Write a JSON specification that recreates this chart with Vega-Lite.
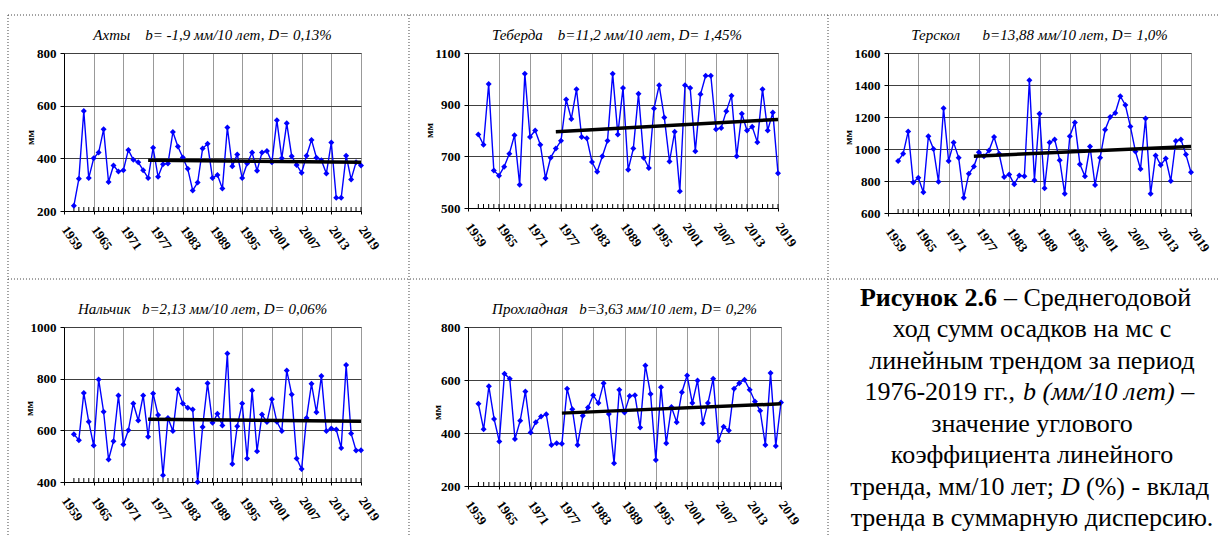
{
"$schema":"https://vega.github.io/schema/vega-lite/v6.json",
"padding":{"left":7,"top":14,"right":0,"bottom":0},
"autosize":{"type":"pad"},
"background":"white",
"config":{
 "view":{"stroke":"#888888","strokeWidth":1},
 "font":"Liberation Serif",
 "title":{"font":"Liberation Serif","fontStyle":"italic","fontWeight":"normal","fontSize":15,"color":"black","offset":4,"anchor":"middle","baseline":"bottom"},
 "axis":{"labelFont":"Liberation Serif","labelFontWeight":"bold","labelFontSize":13,"labelColor":"black","titleFont":"Liberation Serif","titleFontWeight":"bold","titleFontSize":11,"titleColor":"black","domainColor":"black","tickColor":"black","gridOpacity":1,"labelOverlap":false,"tickCount":100},
 "axisY":{"tickSize":4,"labelPadding":4,"gridColor":"#404040","format":"d","labelOverlap":false,"titleAngle":-90,"titleAlign":"center","titleBaseline":"middle"},
 "axisX":{"gridColor":"#999999"}
},
"datasets":{
"series":[
{"s":"Ахты","year":1961,"mm":220},{"s":"Ахты","year":1962,"mm":322},{"s":"Ахты","year":1963,"mm":580},{"s":"Ахты","year":1964,"mm":325},{"s":"Ахты","year":1965,"mm":400},{"s":"Ахты","year":1966,"mm":422},{"s":"Ахты","year":1967,"mm":510},{"s":"Ахты","year":1968,"mm":310},{"s":"Ахты","year":1969,"mm":373},{"s":"Ахты","year":1970,"mm":350},{"s":"Ахты","year":1971,"mm":355},{"s":"Ахты","year":1972,"mm":432},{"s":"Ахты","year":1973,"mm":395},{"s":"Ахты","year":1974,"mm":385},{"s":"Ахты","year":1975,"mm":355},{"s":"Ахты","year":1976,"mm":325},{"s":"Ахты","year":1977,"mm":440},{"s":"Ахты","year":1978,"mm":330},{"s":"Ахты","year":1979,"mm":378},{"s":"Ахты","year":1980,"mm":380},{"s":"Ахты","year":1981,"mm":500},{"s":"Ахты","year":1982,"mm":445},{"s":"Ахты","year":1983,"mm":403},{"s":"Ахты","year":1984,"mm":360},{"s":"Ахты","year":1985,"mm":278},{"s":"Ахты","year":1986,"mm":308},{"s":"Ахты","year":1987,"mm":437},{"s":"Ахты","year":1988,"mm":455},{"s":"Ахты","year":1989,"mm":325},{"s":"Ахты","year":1990,"mm":337},{"s":"Ахты","year":1991,"mm":285},{"s":"Ахты","year":1992,"mm":517},{"s":"Ахты","year":1993,"mm":370},{"s":"Ахты","year":1994,"mm":415},{"s":"Ахты","year":1995,"mm":325},{"s":"Ахты","year":1996,"mm":380},{"s":"Ахты","year":1997,"mm":422},{"s":"Ахты","year":1998,"mm":353},{"s":"Ахты","year":1999,"mm":422},{"s":"Ахты","year":2000,"mm":428},{"s":"Ахты","year":2001,"mm":385},{"s":"Ахты","year":2002,"mm":545},{"s":"Ахты","year":2003,"mm":400},{"s":"Ахты","year":2004,"mm":533},{"s":"Ахты","year":2005,"mm":408},{"s":"Ахты","year":2006,"mm":375},{"s":"Ахты","year":2007,"mm":345},{"s":"Ахты","year":2008,"mm":410},{"s":"Ахты","year":2009,"mm":470},{"s":"Ахты","year":2010,"mm":402},{"s":"Ахты","year":2011,"mm":393},{"s":"Ахты","year":2012,"mm":342},{"s":"Ахты","year":2013,"mm":460},{"s":"Ахты","year":2014,"mm":250},{"s":"Ахты","year":2015,"mm":250},{"s":"Ахты","year":2016,"mm":410},{"s":"Ахты","year":2017,"mm":320},{"s":"Ахты","year":2018,"mm":385},{"s":"Ахты","year":2019,"mm":373},
{"s":"Теберда","year":1961,"mm":785},{"s":"Теберда","year":1962,"mm":745},{"s":"Теберда","year":1963,"mm":980},{"s":"Теберда","year":1964,"mm":645},{"s":"Теберда","year":1965,"mm":625},{"s":"Теберда","year":1966,"mm":660},{"s":"Теберда","year":1967,"mm":710},{"s":"Теберда","year":1968,"mm":782},{"s":"Теберда","year":1969,"mm":590},{"s":"Теберда","year":1970,"mm":1020},{"s":"Теберда","year":1971,"mm":775},{"s":"Теберда","year":1972,"mm":800},{"s":"Теберда","year":1973,"mm":745},{"s":"Теберда","year":1974,"mm":615},{"s":"Теберда","year":1975,"mm":695},{"s":"Теберда","year":1976,"mm":730},{"s":"Теберда","year":1977,"mm":760},{"s":"Теберда","year":1978,"mm":920},{"s":"Теберда","year":1979,"mm":845},{"s":"Теберда","year":1980,"mm":960},{"s":"Теберда","year":1981,"mm":775},{"s":"Теберда","year":1982,"mm":770},{"s":"Теберда","year":1983,"mm":678},{"s":"Теберда","year":1984,"mm":640},{"s":"Теберда","year":1985,"mm":700},{"s":"Теберда","year":1986,"mm":760},{"s":"Теберда","year":1987,"mm":1020},{"s":"Теберда","year":1988,"mm":785},{"s":"Теберда","year":1989,"mm":965},{"s":"Теберда","year":1990,"mm":648},{"s":"Теберда","year":1991,"mm":730},{"s":"Теберда","year":1992,"mm":942},{"s":"Теберда","year":1993,"mm":695},{"s":"Теберда","year":1994,"mm":655},{"s":"Теберда","year":1995,"mm":885},{"s":"Теберда","year":1996,"mm":975},{"s":"Теберда","year":1997,"mm":850},{"s":"Теберда","year":1998,"mm":680},{"s":"Теберда","year":1999,"mm":795},{"s":"Теберда","year":2000,"mm":565},{"s":"Теберда","year":2001,"mm":975},{"s":"Теберда","year":2002,"mm":965},{"s":"Теберда","year":2003,"mm":720},{"s":"Теберда","year":2004,"mm":940},{"s":"Теберда","year":2005,"mm":1012},{"s":"Теберда","year":2006,"mm":1012},{"s":"Теберда","year":2007,"mm":805},{"s":"Теберда","year":2008,"mm":810},{"s":"Теберда","year":2009,"mm":875},{"s":"Теберда","year":2010,"mm":935},{"s":"Теберда","year":2011,"mm":700},{"s":"Теберда","year":2012,"mm":865},{"s":"Теберда","year":2013,"mm":800},{"s":"Теберда","year":2014,"mm":815},{"s":"Теберда","year":2015,"mm":755},{"s":"Теберда","year":2016,"mm":960},{"s":"Теберда","year":2017,"mm":800},{"s":"Теберда","year":2018,"mm":870},{"s":"Теберда","year":2019,"mm":635},
{"s":"Терскол","year":1961,"mm":925},{"s":"Терскол","year":1962,"mm":970},{"s":"Терскол","year":1963,"mm":1110},{"s":"Терскол","year":1964,"mm":790},{"s":"Терскол","year":1965,"mm":820},{"s":"Терскол","year":1966,"mm":730},{"s":"Терскол","year":1967,"mm":1080},{"s":"Терскол","year":1968,"mm":1000},{"s":"Терскол","year":1969,"mm":795},{"s":"Терскол","year":1970,"mm":1255},{"s":"Терскол","year":1971,"mm":925},{"s":"Терскол","year":1972,"mm":1040},{"s":"Терскол","year":1973,"mm":945},{"s":"Терскол","year":1974,"mm":695},{"s":"Терскол","year":1975,"mm":845},{"s":"Терскол","year":1976,"mm":890},{"s":"Терскол","year":1977,"mm":980},{"s":"Терскол","year":1978,"mm":955},{"s":"Терскол","year":1979,"mm":990},{"s":"Терскол","year":1980,"mm":1075},{"s":"Терскол","year":1981,"mm":970},{"s":"Терскол","year":1982,"mm":825},{"s":"Терскол","year":1983,"mm":840},{"s":"Терскол","year":1984,"mm":780},{"s":"Терскол","year":1985,"mm":835},{"s":"Терскол","year":1986,"mm":830},{"s":"Терскол","year":1987,"mm":1430},{"s":"Терскол","year":1988,"mm":805},{"s":"Терскол","year":1989,"mm":1220},{"s":"Терскол","year":1990,"mm":755},{"s":"Терскол","year":1991,"mm":1040},{"s":"Терскол","year":1992,"mm":1060},{"s":"Терскол","year":1993,"mm":930},{"s":"Терскол","year":1994,"mm":720},{"s":"Терскол","year":1995,"mm":1080},{"s":"Терскол","year":1996,"mm":1165},{"s":"Терскол","year":1997,"mm":905},{"s":"Терскол","year":1998,"mm":830},{"s":"Терскол","year":1999,"mm":1015},{"s":"Терскол","year":2000,"mm":775},{"s":"Терскол","year":2001,"mm":945},{"s":"Терскол","year":2002,"mm":1120},{"s":"Терскол","year":2003,"mm":1200},{"s":"Терскол","year":2004,"mm":1225},{"s":"Терскол","year":2005,"mm":1330},{"s":"Терскол","year":2006,"mm":1275},{"s":"Терскол","year":2007,"mm":1140},{"s":"Терскол","year":2008,"mm":985},{"s":"Терскол","year":2009,"mm":875},{"s":"Терскол","year":2010,"mm":1190},{"s":"Терскол","year":2011,"mm":720},{"s":"Терскол","year":2012,"mm":960},{"s":"Терскол","year":2013,"mm":900},{"s":"Терскол","year":2014,"mm":940},{"s":"Терскол","year":2015,"mm":800},{"s":"Терскол","year":2016,"mm":1050},{"s":"Терскол","year":2017,"mm":1060},{"s":"Терскол","year":2018,"mm":965},{"s":"Терскол","year":2019,"mm":855},
{"s":"Нальчик","year":1961,"mm":585},{"s":"Нальчик","year":1962,"mm":562},{"s":"Нальчик","year":1963,"mm":745},{"s":"Нальчик","year":1964,"mm":633},{"s":"Нальчик","year":1965,"mm":541},{"s":"Нальчик","year":1966,"mm":797},{"s":"Нальчик","year":1967,"mm":672},{"s":"Нальчик","year":1968,"mm":487},{"s":"Нальчик","year":1969,"mm":558},{"s":"Нальчик","year":1970,"mm":735},{"s":"Нальчик","year":1971,"mm":545},{"s":"Нальчик","year":1972,"mm":600},{"s":"Нальчик","year":1973,"mm":704},{"s":"Нальчик","year":1974,"mm":638},{"s":"Нальчик","year":1975,"mm":735},{"s":"Нальчик","year":1976,"mm":575},{"s":"Нальчик","year":1977,"mm":743},{"s":"Нальчик","year":1978,"mm":659},{"s":"Нальчик","year":1979,"mm":426},{"s":"Нальчик","year":1980,"mm":648},{"s":"Нальчик","year":1981,"mm":597},{"s":"Нальчик","year":1982,"mm":758},{"s":"Нальчик","year":1983,"mm":704},{"s":"Нальчик","year":1984,"mm":687},{"s":"Нальчик","year":1985,"mm":681},{"s":"Нальчик","year":1986,"mm":400},{"s":"Нальчик","year":1987,"mm":613},{"s":"Нальчик","year":1988,"mm":782},{"s":"Нальчик","year":1989,"mm":629},{"s":"Нальчик","year":1990,"mm":664},{"s":"Нальчик","year":1991,"mm":619},{"s":"Нальчик","year":1992,"mm":897},{"s":"Нальчик","year":1993,"mm":470},{"s":"Нальчик","year":1994,"mm":616},{"s":"Нальчик","year":1995,"mm":704},{"s":"Нальчик","year":1996,"mm":491},{"s":"Нальчик","year":1997,"mm":754},{"s":"Нальчик","year":1998,"mm":519},{"s":"Нальчик","year":1999,"mm":661},{"s":"Нальчик","year":2000,"mm":632},{"s":"Нальчик","year":2001,"mm":720},{"s":"Нальчик","year":2002,"mm":633},{"s":"Нальчик","year":2003,"mm":597},{"s":"Нальчик","year":2004,"mm":832},{"s":"Нальчик","year":2005,"mm":739},{"s":"Нальчик","year":2006,"mm":491},{"s":"Нальчик","year":2007,"mm":450},{"s":"Нальчик","year":2008,"mm":648},{"s":"Нальчик","year":2009,"mm":780},{"s":"Нальчик","year":2010,"mm":670},{"s":"Нальчик","year":2011,"mm":810},{"s":"Нальчик","year":2012,"mm":597},{"s":"Нальчик","year":2013,"mm":607},{"s":"Нальчик","year":2014,"mm":603},{"s":"Нальчик","year":2015,"mm":532},{"s":"Нальчик","year":2016,"mm":853},{"s":"Нальчик","year":2017,"mm":588},{"s":"Нальчик","year":2018,"mm":522},{"s":"Нальчик","year":2019,"mm":523},
{"s":"Прохладная","year":1961,"mm":510},{"s":"Прохладная","year":1962,"mm":414},{"s":"Прохладная","year":1963,"mm":576},{"s":"Прохладная","year":1964,"mm":453},{"s":"Прохладная","year":1965,"mm":368},{"s":"Прохладная","year":1966,"mm":624},{"s":"Прохладная","year":1967,"mm":605},{"s":"Прохладная","year":1968,"mm":377},{"s":"Прохладная","year":1969,"mm":446},{"s":"Прохладная","year":1970,"mm":557},{"s":"Прохладная","year":1971,"mm":402},{"s":"Прохладная","year":1972,"mm":441},{"s":"Прохладная","year":1973,"mm":462},{"s":"Прохладная","year":1974,"mm":471},{"s":"Прохладная","year":1975,"mm":355},{"s":"Прохладная","year":1976,"mm":361},{"s":"Прохладная","year":1977,"mm":359},{"s":"Прохладная","year":1978,"mm":567},{"s":"Прохладная","year":1979,"mm":490},{"s":"Прохладная","year":1980,"mm":355},{"s":"Прохладная","year":1981,"mm":465},{"s":"Прохладная","year":1982,"mm":496},{"s":"Прохладная","year":1983,"mm":542},{"s":"Прохладная","year":1984,"mm":513},{"s":"Прохладная","year":1985,"mm":588},{"s":"Прохладная","year":1986,"mm":472},{"s":"Прохладная","year":1987,"mm":286},{"s":"Прохладная","year":1988,"mm":563},{"s":"Прохладная","year":1989,"mm":477},{"s":"Прохладная","year":1990,"mm":540},{"s":"Прохладная","year":1991,"mm":542},{"s":"Прохладная","year":1992,"mm":421},{"s":"Прохладная","year":1993,"mm":655},{"s":"Прохладная","year":1994,"mm":547},{"s":"Прохладная","year":1995,"mm":298},{"s":"Прохладная","year":1996,"mm":573},{"s":"Прохладная","year":1997,"mm":361},{"s":"Прохладная","year":1998,"mm":498},{"s":"Прохладная","year":1999,"mm":441},{"s":"Прохладная","year":2000,"mm":554},{"s":"Прохладная","year":2001,"mm":617},{"s":"Прохладная","year":2002,"mm":513},{"s":"Прохладная","year":2003,"mm":598},{"s":"Прохладная","year":2004,"mm":437},{"s":"Прохладная","year":2005,"mm":513},{"s":"Прохладная","year":2006,"mm":605},{"s":"Прохладная","year":2007,"mm":370},{"s":"Прохладная","year":2008,"mm":424},{"s":"Прохладная","year":2009,"mm":409},{"s":"Прохладная","year":2010,"mm":567},{"s":"Прохладная","year":2011,"mm":588},{"s":"Прохладная","year":2012,"mm":601},{"s":"Прохладная","year":2013,"mm":563},{"s":"Прохладная","year":2014,"mm":519},{"s":"Прохладная","year":2015,"mm":484},{"s":"Прохладная","year":2016,"mm":355},{"s":"Прохладная","year":2017,"mm":626},{"s":"Прохладная","year":2018,"mm":351},{"s":"Прохладная","year":2019,"mm":515}
],
"trend":[
{"s":"Ахты","year":1976,"mm":393},{"s":"Ахты","year":2019,"mm":385},
{"s":"Теберда","year":1976,"mm":795},{"s":"Теберда","year":2019,"mm":843},
{"s":"Терскол","year":1976,"mm":955},{"s":"Терскол","year":2019,"mm":1015},
{"s":"Нальчик","year":1976,"mm":643},{"s":"Нальчик","year":2019,"mm":635},
{"s":"Прохладная","year":1977,"mm":475},{"s":"Прохладная","year":2019,"mm":510}
],
"caption":[
{"line":1,"seg":"1a","text":"Рисунок 2.6"},
{"line":1,"seg":"1b","text":"– Среднегодовой"},
{"line":2,"seg":"c","text":"ход сумм осадков на мс с"},
{"line":3,"seg":"c","text":"линейным трендом за период"},
{"line":4,"seg":"4a","text":"1976-2019 гг.,"},
{"line":4,"seg":"4b","text":"b (мм/10 лет) –"},
{"line":5,"seg":"c","text":"значение углового"},
{"line":6,"seg":"c","text":"коэффициента линейного"},
{"line":7,"seg":"7a","text":"тренда, мм/10 лет;"},
{"line":7,"seg":"7b","text":"D"},
{"line":7,"seg":"7c","text":"(%) - вклад"},
{"line":8,"seg":"c","text":"тренда в суммарную дисперсию."}
]
},
"bounds":"flush",
"align":"each",
"columns":3,
"spacing":{"row":114,"column":107},
"concat":[
  {"width":297,"height":158,"title":{"text":"Ахты\u00a0\u00a0\u00a0\u00a0b= -1,9 мм/10 лет, D= 0,13%"},
   "layer":[
    {"data":{"name":"series"},"transform":[{"filter":"datum.s === 'Ахты'"}],"mark":{"type":"line","color":"#0000ff","strokeWidth":1.4},
     "encoding":{"x":{"field":"year","type":"quantitative","scale":{"domain":[1959,2019],"nice":false,"zero":false},"axis":{"values":[1959,1965,1971,1977,1983,1989,1995,2001,2007,2013,2019],"tickCount":100,"format":"d","labelAngle":55,"labelAlign":"left","labelBaseline":"middle","labelOverlap":false,"labelFlush":false,"labelBound":false,"tickSize":3,"labelPadding":13,"title":null}},
      "y":{"field":"mm","type":"quantitative","scale":{"domain":[200,800],"nice":false,"zero":false},"axis":{"values":[200,400,600,800],"tickCount":100,"title":"мм","titleX":-34,"titleY":84,"labelOverlap":false}}}},
    {"data":{"name":"series"},"transform":[{"filter":"datum.s === 'Ахты'"}],"mark":{"type":"tick","orient":"vertical","color":"black","thickness":1,"size":4,"yOffset":-2,"opacity":1},
     "encoding":{"x":{"field":"year","type":"quantitative"},"y":{"datum":200,"type":"quantitative"}}},
    {"data":{"name":"series"},"transform":[{"filter":"datum.s === 'Ахты'"}],"mark":{"type":"point","shape":"diamond","filled":true,"size":36,"color":"#0000ff","opacity":1},
     "encoding":{"x":{"field":"year","type":"quantitative"},"y":{"field":"mm","type":"quantitative"}}},
    {"data":{"name":"trend"},"transform":[{"filter":"datum.s === 'Ахты'"}],"mark":{"type":"line","color":"black","strokeWidth":3.5},
     "encoding":{"x":{"field":"year","type":"quantitative"},"y":{"field":"mm","type":"quantitative"}}}
   ]},
  {"width":310,"height":155,"title":{"text":"Теберда\u00a0\u00a0\u00a0\u00a0b=11,2 мм/10 лет, D= 1,45%","dx":-6},
   "layer":[
    {"data":{"name":"series"},"transform":[{"filter":"datum.s === 'Теберда'"}],"mark":{"type":"line","color":"#0000ff","strokeWidth":1.4},
     "encoding":{"x":{"field":"year","type":"quantitative","scale":{"domain":[1959,2019],"nice":false,"zero":false},"axis":{"values":[1959,1965,1971,1977,1983,1989,1995,2001,2007,2013,2019],"tickCount":100,"format":"d","labelAngle":55,"labelAlign":"left","labelBaseline":"middle","labelOverlap":false,"labelFlush":false,"labelBound":false,"tickSize":3,"labelPadding":13,"title":null}},
      "y":{"field":"mm","type":"quantitative","scale":{"domain":[500,1100],"nice":false,"zero":false},"axis":{"values":[500,700,900,1100],"tickCount":100,"title":"мм","titleX":-39,"titleY":77,"labelOverlap":false}}}},
    {"data":{"name":"series"},"transform":[{"filter":"datum.s === 'Теберда'"}],"mark":{"type":"tick","orient":"vertical","color":"black","thickness":1,"size":4,"yOffset":-2,"opacity":1},
     "encoding":{"x":{"field":"year","type":"quantitative"},"y":{"datum":500,"type":"quantitative"}}},
    {"data":{"name":"series"},"transform":[{"filter":"datum.s === 'Теберда'"}],"mark":{"type":"point","shape":"diamond","filled":true,"size":36,"color":"#0000ff","opacity":1},
     "encoding":{"x":{"field":"year","type":"quantitative"},"y":{"field":"mm","type":"quantitative"}}},
    {"data":{"name":"trend"},"transform":[{"filter":"datum.s === 'Теберда'"}],"mark":{"type":"line","color":"black","strokeWidth":3.5},
     "encoding":{"x":{"field":"year","type":"quantitative"},"y":{"field":"mm","type":"quantitative"}}}
   ]},
  {"width":303,"height":160,"title":{"text":"Терскол\u00a0\u00a0\u00a0\u00a0\u00a0\u00a0b=13,88 мм/10 лет, D= 1,0%"},
   "layer":[
    {"data":{"name":"series"},"transform":[{"filter":"datum.s === 'Терскол'"}],"mark":{"type":"line","color":"#0000ff","strokeWidth":1.4},
     "encoding":{"x":{"field":"year","type":"quantitative","scale":{"domain":[1959,2019],"nice":false,"zero":false},"axis":{"values":[1959,1965,1971,1977,1983,1989,1995,2001,2007,2013,2019],"tickCount":100,"format":"d","labelAngle":55,"labelAlign":"left","labelBaseline":"middle","labelOverlap":false,"labelFlush":false,"labelBound":false,"tickSize":3,"labelPadding":13,"title":null}},
      "y":{"field":"mm","type":"quantitative","scale":{"domain":[600,1600],"nice":false,"zero":false},"axis":{"values":[600,800,1000,1200,1400,1600],"tickCount":100,"title":"мм","titleX":-40,"titleY":84,"labelOverlap":false}}}},
    {"data":{"name":"series"},"transform":[{"filter":"datum.s === 'Терскол'"}],"mark":{"type":"tick","orient":"vertical","color":"black","thickness":1,"size":4,"yOffset":-2,"opacity":1},
     "encoding":{"x":{"field":"year","type":"quantitative"},"y":{"datum":600,"type":"quantitative"}}},
    {"data":{"name":"series"},"transform":[{"filter":"datum.s === 'Терскол'"}],"mark":{"type":"point","shape":"diamond","filled":true,"size":36,"color":"#0000ff","opacity":1},
     "encoding":{"x":{"field":"year","type":"quantitative"},"y":{"field":"mm","type":"quantitative"}}},
    {"data":{"name":"trend"},"transform":[{"filter":"datum.s === 'Терскол'"}],"mark":{"type":"line","color":"black","strokeWidth":3.5},
     "encoding":{"x":{"field":"year","type":"quantitative"},"y":{"field":"mm","type":"quantitative"}}}
   ]},
  {"width":297,"height":155,"title":{"text":"Нальчик\u00a0\u00a0\u00a0b=2,13 мм/10 лет, D= 0,06%","dx":-10},
   "layer":[
    {"data":{"name":"series"},"transform":[{"filter":"datum.s === 'Нальчик'"}],"mark":{"type":"line","color":"#0000ff","strokeWidth":1.4},
     "encoding":{"x":{"field":"year","type":"quantitative","scale":{"domain":[1959,2019],"nice":false,"zero":false},"axis":{"values":[1959,1965,1971,1977,1983,1989,1995,2001,2007,2013,2019],"tickCount":100,"format":"d","labelAngle":55,"labelAlign":"left","labelBaseline":"middle","labelOverlap":false,"labelFlush":false,"labelBound":false,"tickSize":3,"labelPadding":13,"title":null}},
      "y":{"field":"mm","type":"quantitative","scale":{"domain":[400,1000],"nice":false,"zero":false},"axis":{"values":[400,600,800,1000],"tickCount":100,"title":"мм","titleX":-35,"titleY":81,"labelOverlap":false}}}},
    {"data":{"name":"series"},"transform":[{"filter":"datum.s === 'Нальчик'"}],"mark":{"type":"tick","orient":"vertical","color":"black","thickness":1,"size":4,"yOffset":-2,"opacity":1},
     "encoding":{"x":{"field":"year","type":"quantitative"},"y":{"datum":400,"type":"quantitative"}}},
    {"data":{"name":"series"},"transform":[{"filter":"datum.s === 'Нальчик'"}],"mark":{"type":"point","shape":"diamond","filled":true,"size":36,"color":"#0000ff","opacity":1},
     "encoding":{"x":{"field":"year","type":"quantitative"},"y":{"field":"mm","type":"quantitative"}}},
    {"data":{"name":"trend"},"transform":[{"filter":"datum.s === 'Нальчик'"}],"mark":{"type":"line","color":"black","strokeWidth":3.5},
     "encoding":{"x":{"field":"year","type":"quantitative"},"y":{"field":"mm","type":"quantitative"}}}
   ]},
  {"width":313,"height":159,"title":{"text":"Прохладная\u00a0\u00a0\u00a0b=3,63 мм/10 лет, D= 0,2%"},
   "layer":[
    {"data":{"name":"series"},"transform":[{"filter":"datum.s === 'Прохладная'"}],"mark":{"type":"line","color":"#0000ff","strokeWidth":1.4},
     "encoding":{"x":{"field":"year","type":"quantitative","scale":{"domain":[1959,2019],"nice":false,"zero":false},"axis":{"values":[1959,1965,1971,1977,1983,1989,1995,2001,2007,2013,2019],"tickCount":100,"format":"d","labelAngle":55,"labelAlign":"left","labelBaseline":"middle","labelOverlap":false,"labelFlush":false,"labelBound":false,"tickSize":3,"labelPadding":13,"title":null}},
      "y":{"field":"mm","type":"quantitative","scale":{"domain":[200,800],"nice":false,"zero":false},"axis":{"values":[200,400,600,800],"tickCount":100,"title":"мм","titleX":-31,"titleY":85,"labelOverlap":false}}}},
    {"data":{"name":"series"},"transform":[{"filter":"datum.s === 'Прохладная'"}],"mark":{"type":"tick","orient":"vertical","color":"black","thickness":1,"size":4,"yOffset":-2,"opacity":1},
     "encoding":{"x":{"field":"year","type":"quantitative"},"y":{"datum":200,"type":"quantitative"}}},
    {"data":{"name":"series"},"transform":[{"filter":"datum.s === 'Прохладная'"}],"mark":{"type":"point","shape":"diamond","filled":true,"size":36,"color":"#0000ff","opacity":1},
     "encoding":{"x":{"field":"year","type":"quantitative"},"y":{"field":"mm","type":"quantitative"}}},
    {"data":{"name":"trend"},"transform":[{"filter":"datum.s === 'Прохладная'"}],"mark":{"type":"line","color":"black","strokeWidth":3.5},
     "encoding":{"x":{"field":"year","type":"quantitative"},"y":{"field":"mm","type":"quantitative"}}}
   ]},
 {"width":303,"height":155,"view":{"stroke":null},
  "layer":[
   {"data":{"name":"caption"},"transform":[{"filter":"datum.seg === 'c'"}],"mark":{"type":"text","font":"Liberation Serif","fontSize":26,"align":"center","baseline":"alphabetic","color":"black"},
    "encoding":{"x":{"datum":0.4752,"type":"quantitative","scale":{"domain":[0,1],"nice":false,"zero":false},"axis":null},"y":{"field":"line","type":"quantitative","scale":{"domain":[1,8],"range":[-21,199],"nice":false,"zero":false},"axis":null},"text":{"field":"text"}}},
   {"data":{"name":"caption"},"transform":[{"filter":"datum.seg === '1a'"}],"mark":{"type":"text","font":"Liberation Serif","fontSize":26,"fontWeight":"bold","align":"right","baseline":"alphabetic","color":"black"},
    "encoding":{"x":{"datum":0.3597,"type":"quantitative","scale":{"domain":[0,1],"nice":false,"zero":false},"axis":null},"y":{"field":"line","type":"quantitative","scale":{"domain":[1,8],"range":[-21,199],"nice":false,"zero":false},"axis":null},"text":{"field":"text"}}},
   {"data":{"name":"caption"},"transform":[{"filter":"datum.seg === '1b'"}],"mark":{"type":"text","font":"Liberation Serif","fontSize":26,"align":"left","baseline":"alphabetic","color":"black"},
    "encoding":{"x":{"datum":0.3828,"type":"quantitative","scale":{"domain":[0,1],"nice":false,"zero":false},"axis":null},"y":{"field":"line","type":"quantitative","scale":{"domain":[1,8],"range":[-21,199],"nice":false,"zero":false},"axis":null},"text":{"field":"text"}}},
   {"data":{"name":"caption"},"transform":[{"filter":"datum.seg === '4a'"}],"mark":{"type":"text","font":"Liberation Serif","fontSize":26,"align":"right","baseline":"alphabetic","color":"black"},
    "encoding":{"x":{"datum":0.4191,"type":"quantitative","scale":{"domain":[0,1],"nice":false,"zero":false},"axis":null},"y":{"field":"line","type":"quantitative","scale":{"domain":[1,8],"range":[-21,199],"nice":false,"zero":false},"axis":null},"text":{"field":"text"}}},
   {"data":{"name":"caption"},"transform":[{"filter":"datum.seg === '4b'"}],"mark":{"type":"text","font":"Liberation Serif","fontSize":26,"fontStyle":"italic","align":"left","baseline":"alphabetic","color":"black"},
    "encoding":{"x":{"datum":0.4455,"type":"quantitative","scale":{"domain":[0,1],"nice":false,"zero":false},"axis":null},"y":{"field":"line","type":"quantitative","scale":{"domain":[1,8],"range":[-21,199],"nice":false,"zero":false},"axis":null},"text":{"field":"text"}}},
   {"data":{"name":"caption"},"transform":[{"filter":"datum.seg === '7a'"}],"mark":{"type":"text","font":"Liberation Serif","fontSize":26,"align":"right","baseline":"alphabetic","color":"black"},
    "encoding":{"x":{"datum":0.5479,"type":"quantitative","scale":{"domain":[0,1],"nice":false,"zero":false},"axis":null},"y":{"field":"line","type":"quantitative","scale":{"domain":[1,8],"range":[-21,199],"nice":false,"zero":false},"axis":null},"text":{"field":"text"}}},
   {"data":{"name":"caption"},"transform":[{"filter":"datum.seg === '7b'"}],"mark":{"type":"text","font":"Liberation Serif","fontSize":26,"fontStyle":"italic","align":"left","baseline":"alphabetic","color":"black"},
    "encoding":{"x":{"datum":0.5710,"type":"quantitative","scale":{"domain":[0,1],"nice":false,"zero":false},"axis":null},"y":{"field":"line","type":"quantitative","scale":{"domain":[1,8],"range":[-21,199],"nice":false,"zero":false},"axis":null},"text":{"field":"text"}}},
   {"data":{"name":"caption"},"transform":[{"filter":"datum.seg === '7c'"}],"mark":{"type":"text","font":"Liberation Serif","fontSize":26,"align":"left","baseline":"alphabetic","color":"black"},
    "encoding":{"x":{"datum":0.6535,"type":"quantitative","scale":{"domain":[0,1],"nice":false,"zero":false},"axis":null},"y":{"field":"line","type":"quantitative","scale":{"domain":[1,8],"range":[-21,199],"nice":false,"zero":false},"axis":null},"text":{"field":"text"}}},
   {"data":{"values":[{}]},"mark":{"type":"rule","color":"#444444","strokeWidth":1,"strokeDash":[1,2]},
    "encoding":{"x":{"datum":-2.9043,"type":"quantitative","scale":{"domain":[0,1],"nice":false,"zero":false},"axis":null},"x2":{"datum":1.0957},"y":{"datum":-8.259,"type":"quantitative","scale":{"domain":[1,8],"range":[-21,199],"nice":false,"zero":false},"axis":null}}},
   {"data":{"values":[{}]},"mark":{"type":"rule","color":"#444444","strokeWidth":1,"strokeDash":[1,2]},
    "encoding":{"x":{"datum":-2.9043,"type":"quantitative","scale":{"domain":[0,1],"nice":false,"zero":false},"axis":null},"x2":{"datum":1.0957},"y":{"datum":0.141,"type":"quantitative","scale":{"domain":[1,8],"range":[-21,199],"nice":false,"zero":false},"axis":null}}},
   {"data":{"values":[{}]},"mark":{"type":"rule","color":"#444444","strokeWidth":1,"strokeDash":[1,2]},
    "encoding":{"x":{"datum":-2.9043,"type":"quantitative","scale":{"domain":[0,1],"nice":false,"zero":false},"axis":null},"y":{"datum":-8.259,"type":"quantitative","scale":{"domain":[1,8],"range":[-21,199],"nice":false,"zero":false},"axis":null},"y2":{"datum":8.35}}},
   {"data":{"values":[{}]},"mark":{"type":"rule","color":"#444444","strokeWidth":1,"strokeDash":[1,2]},
    "encoding":{"x":{"datum":-1.5809,"type":"quantitative","scale":{"domain":[0,1],"nice":false,"zero":false},"axis":null},"y":{"datum":-8.259,"type":"quantitative","scale":{"domain":[1,8],"range":[-21,199],"nice":false,"zero":false},"axis":null},"y2":{"datum":8.35}}},
   {"data":{"values":[{}]},"mark":{"type":"rule","color":"#444444","strokeWidth":1,"strokeDash":[1,2]},
    "encoding":{"x":{"datum":-0.1980,"type":"quantitative","scale":{"domain":[0,1],"nice":false,"zero":false},"axis":null},"y":{"datum":-8.259,"type":"quantitative","scale":{"domain":[1,8],"range":[-21,199],"nice":false,"zero":false},"axis":null},"y2":{"datum":8.35}}}
  ]}
]
}
